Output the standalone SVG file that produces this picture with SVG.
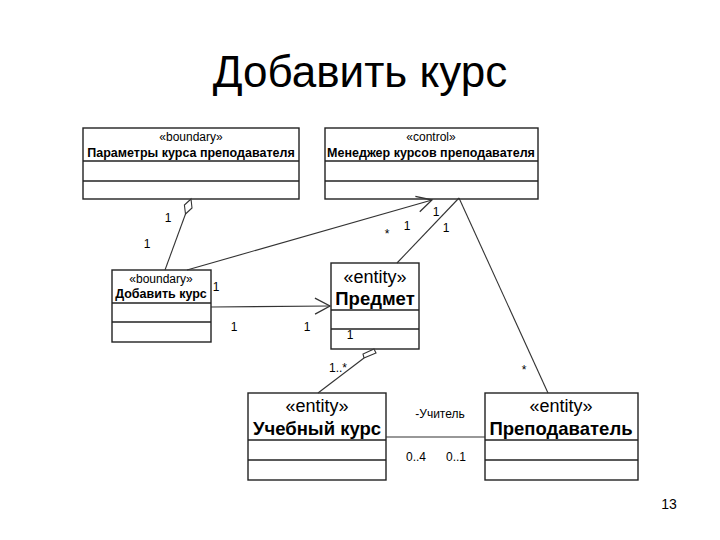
<svg xmlns="http://www.w3.org/2000/svg" width="720" height="540" viewBox="0 0 720 540">
<defs>
<style>
text{font-family:"Liberation Sans",Arial,sans-serif;fill:#000}
.box{fill:#fff;stroke:#222;stroke-width:1.4}
.div{stroke:#222;stroke-width:1.4}
.st{font-size:12px;text-anchor:middle}
.nm{font-size:12.5px;font-weight:bold;text-anchor:middle}
.est{font-size:18px;text-anchor:middle}
.enm{font-size:18.5px;font-weight:bold;text-anchor:middle}
.lbl{font-size:12px;text-anchor:middle}
.ln{stroke:#333;stroke-width:1.1;fill:none}
.dia{fill:#fff;stroke:#333;stroke-width:1.1}
</style>
<marker id="open" markerUnits="userSpaceOnUse" markerWidth="20" markerHeight="20" viewBox="-17 -10 20 20" refX="0" refY="0" orient="auto">
<path d="M-15,-8 L0,0 L-15,8" fill="none" stroke="#333" stroke-width="1.3"/>
</marker>
</defs>
<rect width="720" height="540" fill="#fff"/>
<text x="360" y="87" font-size="44" text-anchor="middle">Добавить курс</text>

<g id="params">
<rect class="box" x="83" y="128" width="216" height="71"/>
<line class="div" x1="83" y1="161" x2="299" y2="161"/>
<line class="div" x1="83" y1="181" x2="299" y2="181"/>
<text class="st" x="191" y="141">«boundary»</text>
<text class="nm" x="191" y="157">Параметры  курса преподавателя</text>
</g>

<g id="manager">
<rect class="box" x="325" y="128" width="213" height="71"/>
<line class="div" x1="325" y1="161" x2="538" y2="161"/>
<line class="div" x1="325" y1="181" x2="538" y2="181"/>
<text class="st" x="431" y="141">«control»</text>
<text class="nm" x="431" y="157">Менеджер курсов преподавателя</text>
</g>

<g id="addcourse">
<rect class="box" x="112" y="270" width="99" height="72"/>
<line class="div" x1="112" y1="303" x2="211" y2="303"/>
<line class="div" x1="112" y1="322" x2="211" y2="322"/>
<text class="st" x="161" y="283">«boundary»</text>
<text class="nm" x="161" y="298">Добавить курс</text>
</g>

<g id="subject">
<rect class="box" x="331" y="263" width="88" height="86"/>
<line class="div" x1="331" y1="310" x2="419" y2="310"/>
<line class="div" x1="331" y1="329" x2="419" y2="329"/>
<text class="est" x="375" y="283">«entity»</text>
<text class="enm" x="375" y="305">Предмет</text>
</g>

<g id="course">
<rect class="box" x="248" y="393" width="138" height="87"/>
<line class="div" x1="248" y1="440" x2="386" y2="440"/>
<line class="div" x1="248" y1="460" x2="386" y2="460"/>
<text class="est" x="317" y="412">«entity»</text>
<text class="enm" x="317" y="435">Учебный курс</text>
</g>

<g id="teacher">
<rect class="box" x="485" y="393" width="153" height="87"/>
<line class="div" x1="485" y1="440" x2="638" y2="440"/>
<line class="div" x1="485" y1="460" x2="638" y2="460"/>
<text class="est" x="561" y="412">«entity»</text>
<text class="enm" x="561" y="435">Преподаватель</text>
</g>

<g id="connectors">
<line class="ln" x1="185.5" y1="214" x2="165" y2="270"/>
<polygon class="dia" points="191,199 192,208 185.5,214 184.4,205"/>
<line class="ln" x1="187" y1="270" x2="432" y2="200" marker-end="url(#open)"/>
<line class="ln" x1="211" y1="307" x2="330" y2="306" marker-end="url(#open)"/>
<line class="ln" x1="397" y1="263" x2="459" y2="198"/>
<line class="ln" x1="459" y1="198" x2="548" y2="393"/>
<line class="ln" x1="364" y1="358" x2="318" y2="393"/>
<polygon class="dia" points="374,349 376,353 364,358 363,354"/>
<line class="ln" x1="386" y1="437" x2="485" y2="437"/>
<text class="lbl" x="168" y="222">1</text>
<text class="lbl" x="147" y="248">1</text>
<text class="lbl" x="216" y="291">1</text>
<text class="lbl" x="234" y="331">1</text>
<text class="lbl" x="307" y="331">1</text>
<text class="lbl" x="387" y="238">*</text>
<text class="lbl" x="407" y="230">1</text>
<text class="lbl" x="436" y="216">1</text>
<text class="lbl" x="446" y="232">1</text>
<text class="lbl" x="350" y="339">1</text>
<text class="lbl" x="338" y="372">1..*</text>
<text class="lbl" x="524" y="374">*</text>
<text class="lbl" x="440" y="418">-Учитель</text>
<text class="lbl" x="416" y="461">0..4</text>
<text class="lbl" x="456" y="461">0..1</text>
</g>
<text x="669" y="509" font-size="14" text-anchor="middle">13</text>
</svg>
